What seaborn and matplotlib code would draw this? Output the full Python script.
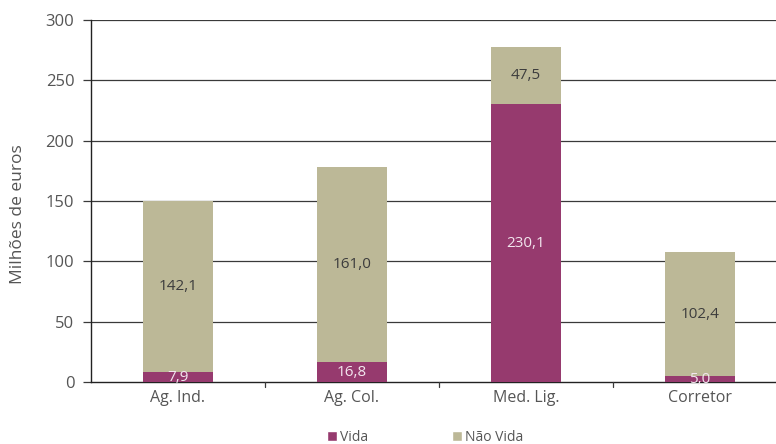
import matplotlib
matplotlib.use("Agg")
import matplotlib.pyplot as plt
import seaborn as sns
import numpy as np
import pandas as pd
from matplotlib.patches import Patch

categorias = ["Ag. Ind.", "Ag. Col.", "Med. Lig.", "Corretor"]
vida = [7.9, 16.8, 230.1, 5.0]
nao_vida = [142.1, 161.0, 47.5, 102.4]
y_ticks = [0, 50, 100, 150, 200, 250, 300]

cor_vida = "#963A6E"
cor_nao_vida = "#BCB897"
cor_texto = "#555555"

sns.set_theme(style="white")
plt.rcParams["font.family"] = ["Open Sans", "DejaVu Sans"]

df = pd.DataFrame({"cat": categorias, "vida": vida, "nao_vida": nao_vida})
df["total"] = df["vida"] + df["nao_vida"]

fig = plt.figure(figsize=(7.76, 4.44), dpi=100)
ax = fig.add_axes([91 / 776, (444 - 382) / 444, (776 - 91) / 776, 362 / 444])

for y in y_ticks[1:]:
    ax.axhline(y, color="#3a3a3a", lw=0.9, zorder=0)

sns.barplot(data=df, x="cat", y="total", color=cor_nao_vida, width=0.4,
            saturation=1, linewidth=0, edgecolor="none", ax=ax, zorder=2)
sns.barplot(data=df, x="cat", y="vida", color=cor_vida, width=0.4,
            saturation=1, linewidth=0, edgecolor="none", ax=ax, zorder=3)

for i, (v, n) in enumerate(zip(vida, nao_vida)):
    ax.text(i, v / 2 - 0.5, f"{v:.1f}".replace(".", ","), ha="center", va="center",
            color="#F2E6EE", fontsize=11, zorder=4)
    ax.text(i, v + n / 2, f"{n:.1f}".replace(".", ","), ha="center", va="center",
            color="#3d3d3d", fontsize=11, zorder=4)

ax.set_ylim(0, 300)
ax.set_xlim(-0.5, 3.5 - 11 / 174)
ax.set_yticks(y_ticks)
ax.set_yticklabels([str(t) for t in y_ticks], color=cor_texto, fontsize=12)
ax.tick_params(axis="y", length=6, width=0.9, color="#3a3a3a", direction="out", left=True, pad=6)
ax.set_xticks(range(len(categorias)))
ax.set_xticklabels(categorias, color=cor_texto, fontsize=11.5)
ax.tick_params(axis="x", length=0, pad=6)

# small separators between categories on the base line
for b in [0.5, 1.5, 2.5]:
    ax.plot([b, b], [0, -4], color="#3a3a3a", lw=0.9, clip_on=False, zorder=5)

ax.set_xlabel("")
ax.set_ylabel("Milhões de euros", color=cor_texto, fontsize=12.5)
ax.yaxis.set_label_coords((26 - 91) / 685, (382 - 214) / 362)

for s in ["top", "right"]:
    ax.spines[s].set_visible(False)
ax.spines["left"].set_color("#222222")
ax.spines["left"].set_linewidth(1.0)
ax.spines["bottom"].set_color("#222222")
ax.spines["bottom"].set_linewidth(1.0)

handles = [Patch(facecolor=cor_vida, label="Vida"),
           Patch(facecolor=cor_nao_vida, label="Não Vida")]
leg = fig.legend(handles=handles, loc="center", bbox_to_anchor=(425 / 776, 1 - 437 / 444),
                 ncol=2, frameon=False, fontsize=10, handlelength=0.75, handleheight=0.75,
                 handletextpad=0.2, columnspacing=6.0)
for t in leg.get_texts():
    t.set_color(cor_texto)

fig.savefig("out.png", dpi=100)
